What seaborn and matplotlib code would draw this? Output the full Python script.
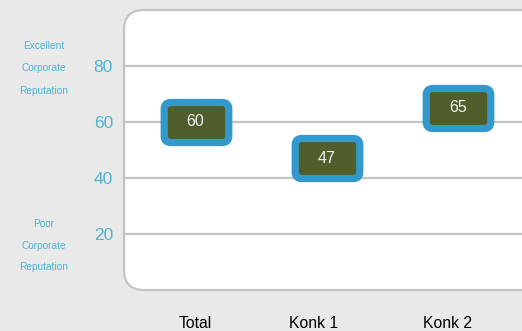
import matplotlib
matplotlib.use("Agg")
import matplotlib.pyplot as plt
import matplotlib.patches as mpatches
import matplotlib.transforms as mtransforms
import seaborn as sns
import pandas as pd

# Reputation scores per brand
categories = ["Total", "Konk 1", "Konk 2"]
scores = [60, 47, 65]
y_ticks = [20, 40, 60, 80]
top_caption = ["Excellent", "Corporate", "Reputation"]
bottom_caption = ["Poor", "Corporate", "Reputation"]

BG = "#e9e9e9"
GRID = "#c4c4c4"
TICK_BLUE = "#4fb3d3"
RING_BLUE = "#3399cc"
OLIVE = "#4f5e2a"

sns.set_theme(style="white")
plt.rcParams["font.family"] = ["Liberation Sans", "DejaVu Sans"]

W, H, DPI = 5.22, 3.31, 100
fig = plt.figure(figsize=(W, H), dpi=DPI, facecolor=BG)
ax = fig.add_axes([124 / 522, 41 / 331, 398 / 522, 280 / 331])
ax.set_facecolor("none")

# white rounded panel behind the plot area
panel = mpatches.FancyBboxPatch(
    (124 / 522, 41 / 331), 420 / 522, 280 / 331,
    boxstyle="round,pad=0,rounding_size=%f" % (20 / 522),
    mutation_aspect=522 / 331,
    transform=fig.transFigure, facecolor="white", edgecolor=GRID,
    linewidth=1.6, zorder=-10, clip_on=False)
ax.add_artist(panel)

# rounded-rectangle marker shape
box = mpatches.FancyBboxPatch((-0.5, -0.31), 1.0, 0.62,
                              boxstyle="round,pad=0,rounding_size=0.1")
marker_path = box.get_path()

df = pd.DataFrame({"brand": categories, "score": scores})
sns.scatterplot(data=df, x="brand", y="score", ax=ax, marker=marker_path,
                s=2160, color=OLIVE, edgecolor=RING_BLUE, linewidth=5.2,
                zorder=5, legend=False)

for i, v in enumerate(scores):
    ax.text(i, v, str(v), ha="center", va="center", color="#f2f2f2",
            fontsize=11.5, zorder=6)

ax.set_xlim(-0.545, 2.488)
ax.set_ylim(0, 100)
ax.set_yticks(y_ticks)
ax.set_yticklabels([str(t) for t in y_ticks])
ax.set_xticks(range(len(categories)))
ax.set_xticklabels(categories)
ax.tick_params(axis="y", length=0, pad=8, labelsize=12.5, labelcolor=TICK_BLUE)
ax.tick_params(axis="x", length=0, pad=19, labelsize=11.3, labelcolor="black")
ax.set_xlabel("")
ax.set_ylabel("")
ax.set_axisbelow(True)
ax.yaxis.grid(True, color=GRID, linewidth=1.6)
ax.xaxis.grid(False)
for s in ax.spines.values():
    s.set_visible(False)

# nudge the competitor labels slightly left, in pixels
label_shift_px = [0, -13, -10]
for lbl, dx in zip(ax.get_xticklabels(), label_shift_px):
    lbl.set_transform(lbl.get_transform() +
                      mtransforms.ScaledTranslation(dx / DPI, 0, fig.dpi_scale_trans))

# side captions for the top and bottom of the scale
for lines, ys in ((top_caption, (46, 68, 91)), (bottom_caption, (224, 246, 267))):
    for txt, yp in zip(lines, ys):
        fig.text(44 / 522, 1 - yp / 331, txt, ha="center", va="center",
                 color=TICK_BLUE, fontsize=7.3)

fig.savefig("out.png", dpi=DPI, facecolor=BG)
